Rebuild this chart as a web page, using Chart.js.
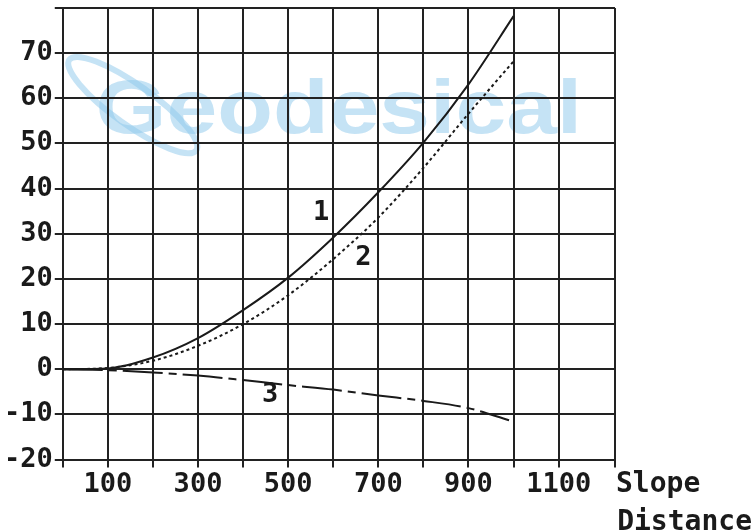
<!DOCTYPE html>
<html>
<head>
<meta charset="utf-8">
<script src="https://cdn.jsdelivr.net/npm/chart.js@4/dist/chart.umd.min.js"></script>
<style>
  html, body { margin: 0; padding: 0; background: #fff; }
  #wrap { width: 754px; height: 531px; }
</style>
</head>
<body>
<div id="wrap"><canvas id="chart" width="754" height="531"></canvas></div>
<script>
// slope distance (x) and the three correction curves
const distance = [0, 100, 200, 300, 400, 500, 600, 700, 800, 900, 1000];
const curve1 = [0, 0.2, 2.6, 6.9, 13.1, 20.3, 29.2, 39.2, 50.2, 63.1, 78.2];
const curve2 = [0, 0.3, 1.9, 5.2, 10, 16.4, 24.4, 33.6, 44.6, 56.6, 68.2];
const distance3 = [0, 100, 200, 300, 400, 500, 600, 700, 800, 900, 990];
const curve3 = [0, -0.2, -0.7, -1.4, -2.4, -3.5, -4.5, -5.8, -7.0, -8.6, -11.3];

const curveNames = ["1", "2", "3"];
const labelAt = [[573, 34.7], [667, 24.7], [460, -5.8]];

const ink = "#1a1a1a";
const mono = "'DejaVu Sans Mono', monospace";

function pts(xs, ys) {
    return xs.map((x, i) => ({ x: x, y: ys[i] }));
}

const decor = {
    id: "decor",
    beforeDraw(chart) {
        const c = chart.ctx;
        const a = chart.chartArea;
        const ys = chart.scales.y;
        c.save();
        c.fillStyle = "#fff";
        c.fillRect(0, 0, chart.width, chart.height);
        // watermark
        const cx = (a.left + a.right) / 2;
        const base = ys.getPixelForValue(52.4);
        c.fillStyle = "rgba(140, 200, 235, 0.5)";
        c.font = "bold 76px 'Liberation Sans', Arial, sans-serif";
        c.textAlign = "center";
        c.textBaseline = "alphabetic";
        c.translate(cx, base);
        c.scale(1.2, 1);
        c.fillText("Geodesical", 0, 0);
        c.restore();
        c.save();
        c.strokeStyle = "rgba(140, 200, 235, 0.5)";
        c.lineWidth = 6;
        c.beginPath();
        c.ellipse(a.left + 70, ys.getPixelForValue(58.5), 78, 20, 0.62, 0, Math.PI * 2);
        c.stroke();
        c.restore();
    },
    afterDraw(chart) {
        const c = chart.ctx;
        const a = chart.chartArea;
        const xs = chart.scales.x;
        const ys = chart.scales.y;
        c.save();
        c.fillStyle = ink;
        c.font = "bold 27px " + mono;
        c.textAlign = "center";
        c.textBaseline = "middle";
        curveNames.forEach((n, i) => {
            c.fillText(n, xs.getPixelForValue(labelAt[i][0]), ys.getPixelForValue(labelAt[i][1]));
        });
        c.font = "bold 28px " + mono;
        c.textBaseline = "alphabetic";
        c.textAlign = "left";
        c.fillText("Slope", a.right + 1, a.bottom + 32);
        c.textAlign = "right";
        c.fillText("Distance", chart.width - 2, a.bottom + 70);
        c.restore();
    }
};

new Chart(document.getElementById("chart"), {
    type: "line",
    data: {
        datasets: [
            { data: pts(distance, curve1), borderColor: ink, borderWidth: 2, borderDash: [] },
            { data: pts(distance, curve2), borderColor: ink, borderWidth: 2, borderDash: [3, 3] },
            { data: pts(distance3, curve3), borderColor: ink, borderWidth: 2, borderDash: [40, 6, 8, 6] }
        ]
    },
    options: {
        responsive: false,
        animation: false,
        elements: { point: { radius: 0 }, line: { tension: 0.4, cubicInterpolationMode: "monotone" } },
        layout: { padding: { left: 2, top: 8, right: 139, bottom: 29 } },
        plugins: { legend: { display: false }, tooltip: { enabled: false } },
        scales: {
            x: {
                type: "linear",
                min: 0,
                max: 1225,
                grid: { color: "#222", lineWidth: 2, tickLength: 8 },
                border: { color: "#222", width: 2 },
                ticks: {
                    stepSize: 100,
                    autoSkip: false,
                    maxRotation: 0,
                    padding: 1,
                    color: ink,
                    font: { family: mono, size: 27, weight: "bold" },
                    callback: v => (v % 200 === 100 ? v : "")
                }
            },
            y: {
                min: -20,
                max: 80,
                afterFit: s => { s.paddingTop = 0; s.paddingBottom = 0; },
                grid: { color: "#222", lineWidth: 2, tickLength: 8 },
                border: { color: "#222", width: 2 },
                ticks: {
                    stepSize: 10,
                    padding: 2,
                    color: ink,
                    font: { family: mono, size: 27, weight: "bold" },
                    callback: v => (v === 80 ? "" : v)
                }
            }
        }
    },
    plugins: [decor]
});
</script>
</body>
</html>
